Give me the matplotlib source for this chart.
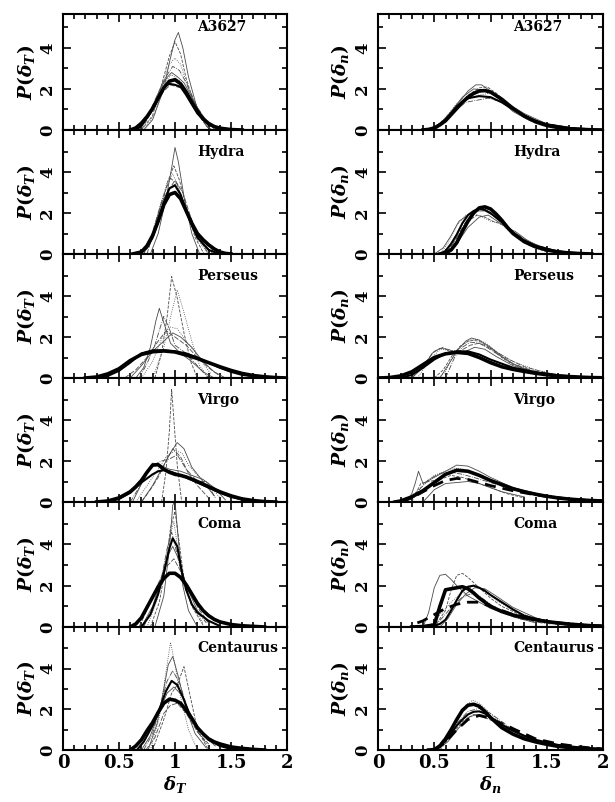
import matplotlib
matplotlib.use("Agg")
import matplotlib.pyplot as plt
from matplotlib.ticker import MultipleLocator, FixedLocator

plt.rcParams['font.family'] = ['DejaVu Serif']
plt.rcParams['font.weight'] = 'bold'
plt.rcParams['mathtext.fontset'] = 'custom'
plt.rcParams['mathtext.it'] = 'DejaVu Serif:italic:bold'
plt.rcParams['mathtext.rm'] = 'DejaVu Serif:bold'
plt.rcParams['mathtext.bf'] = 'DejaVu Serif:bold'

clusters = ["A3627", "Hydra", "Perseus", "Virgo", "Coma", "Centaurus"]
x_ticks = [0, 0.5, 1, 1.5, 2]
x_ticklabels = ['0', '0.5', '1', '1.5', '2']

# ---------------- delta_T (left column) ----------------
a3627_T = {
    "thick": ([0.6, 0.65, 0.7, 0.75, 0.8, 0.85, 0.9, 0.95, 1.0, 1.05, 1.1, 1.15, 1.2, 1.25, 1.3, 1.35, 1.4, 1.5, 1.6],
              [0.0, 0.1, 0.33, 0.65, 1.05, 1.55, 2.05, 2.38, 2.45, 2.25, 1.85, 1.35, 0.92, 0.55, 0.32, 0.17, 0.09, 0.02, 0.0]),
    "med": ([0.65, 0.7, 0.8, 0.85, 0.9, 0.95, 1.0, 1.05, 1.1, 1.2, 1.3, 1.4],
            [0, 0.2, 1.0, 1.6, 2.1, 2.25, 2.2, 2.1, 1.7, 0.8, 0.25, 0.05]),
    "thin": [
        ([0.72, 0.8, 0.9, 0.95, 1.0, 1.03, 1.07, 1.12, 1.2, 1.28, 1.33], [0, 0.5, 2.0, 3.3, 4.4, 4.75, 4.0, 2.6, 1.0, 0.2, 0]),
        ([0.7, 0.8, 0.88, 0.95, 1.0, 1.05, 1.1, 1.2, 1.3], [0, 0.7, 2.2, 3.6, 4.3, 3.7, 2.5, 0.8, 0.05]),
        ([0.68, 0.78, 0.88, 0.95, 1.0, 1.05, 1.12, 1.2, 1.32], [0, 0.8, 2.2, 3.2, 3.5, 3.2, 2.0, 0.9, 0.05]),
        ([0.66, 0.75, 0.85, 0.92, 0.98, 1.04, 1.1, 1.2, 1.3, 1.38], [0, 0.6, 1.8, 2.6, 3.1, 2.9, 2.3, 1.1, 0.3, 0]),
        ([0.68, 0.78, 0.86, 0.92, 0.97, 1.02, 1.08, 1.15, 1.25, 1.35], [0, 0.9, 1.9, 2.5, 2.8, 2.6, 2.3, 1.6, 0.6, 0.05]),
        ([0.7, 0.8, 0.9, 0.96, 1.02, 1.08, 1.15, 1.25, 1.35], [0, 1.0, 1.9, 2.2, 2.1, 2.0, 1.5, 0.6, 0.1]),
        ([0.72, 0.82, 0.9, 0.97, 1.04, 1.12, 1.2, 1.3], [0, 0.8, 2.3, 2.7, 2.4, 1.6, 0.8, 0.1]),
    ],
}

hydra_T = {
    "thick": ([0.62, 0.7, 0.75, 0.8, 0.85, 0.9, 0.95, 1.0, 1.05, 1.1, 1.15, 1.2, 1.25, 1.3, 1.35, 1.4, 1.45, 1.5],
              [0.0, 0.1, 0.4, 0.9, 1.6, 2.4, 2.9, 3.0, 2.7, 2.1, 1.5, 1.0, 0.7, 0.45, 0.25, 0.1, 0.03, 0]),
    "med": ([0.68, 0.75, 0.8, 0.85, 0.9, 0.95, 1.0, 1.05, 1.1, 1.15, 1.2, 1.3, 1.4],
            [0, 0.3, 0.8, 1.6, 2.5, 3.2, 3.35, 2.9, 2.1, 1.4, 0.8, 0.2, 0]),
    "thin": [
        ([0.78, 0.85, 0.92, 0.97, 1.0, 1.03, 1.08, 1.15, 1.22], [0, 1.0, 2.7, 4.2, 5.2, 4.5, 2.8, 1.0, 0]),
        ([0.72, 0.8, 0.88, 0.94, 0.99, 1.04, 1.1, 1.18, 1.26], [0, 0.8, 2.3, 3.6, 4.3, 3.6, 2.3, 0.8, 0]),
        ([0.7, 0.8, 0.87, 0.93, 0.98, 1.03, 1.1, 1.2, 1.3], [0, 0.9, 2.4, 3.5, 3.9, 3.3, 2.1, 0.7, 0]),
        ([0.7, 0.78, 0.86, 0.92, 0.96, 1.02, 1.08, 1.16, 1.26, 1.34], [0, 0.7, 2.2, 3.2, 3.7, 3.4, 2.4, 1.2, 0.5, 0]),
        ([0.72, 0.8, 0.88, 0.95, 1.0, 1.05, 1.12, 1.2, 1.28, 1.36], [0, 1.0, 2.5, 3.2, 3.4, 2.9, 2.0, 1.0, 0.6, 0]),
        ([0.75, 0.85, 0.93, 1.0, 1.07, 1.14, 1.22, 1.3], [0, 1.8, 3.0, 3.6, 3.0, 1.8, 0.7, 0]),
    ],
}

perseus_T = {
    "thick": ([0.2, 0.3, 0.4, 0.5, 0.6, 0.7, 0.8, 0.9, 1.0, 1.1, 1.2, 1.3, 1.4, 1.5, 1.6, 1.7, 1.8, 1.9, 2.0],
              [0.0, 0.05, 0.2, 0.45, 0.85, 1.15, 1.28, 1.32, 1.27, 1.12, 0.95, 0.75, 0.55, 0.37, 0.22, 0.12, 0.06, 0.02, 0.0]),
    "med": ([0.3, 0.4, 0.5, 0.6, 0.7, 0.8, 0.9, 1.0, 1.1, 1.2, 1.3, 1.4, 1.5, 1.6, 1.8],
            [0, 0.1, 0.35, 0.75, 1.2, 1.35, 1.35, 1.3, 1.2, 1.0, 0.75, 0.5, 0.3, 0.15, 0.02]),
    "thin": [
        ([0.65, 0.72, 0.78, 0.83, 0.86, 0.9, 0.96, 1.05, 1.15, 1.25, 1.35], [0, 0.5, 1.5, 2.8, 3.4, 2.7, 1.7, 1.2, 0.8, 0.3, 0]),
        ([0.82, 0.88, 0.93, 0.97, 1.02, 1.08, 1.14, 1.2], [0, 1.2, 3.0, 4.95, 3.9, 2.2, 0.8, 0]),
        ([0.8, 0.9, 0.97, 1.02, 1.08, 1.15, 1.22, 1.3], [0, 1.5, 3.2, 4.3, 3.2, 1.8, 0.6, 0]),
        ([0.68, 0.75, 0.82, 0.87, 0.9, 0.95, 1.0, 1.1, 1.2, 1.3], [0, 0.7, 1.6, 2.5, 3.0, 2.4, 1.6, 1.2, 0.6, 0]),
        ([0.6, 0.7, 0.8, 0.9, 0.98, 1.05, 1.15, 1.25, 1.35, 1.45], [0, 0.6, 1.3, 1.8, 2.2, 2.0, 1.5, 0.8, 0.3, 0]),
        ([0.55, 0.65, 0.75, 0.85, 0.92, 1.0, 1.1, 1.2, 1.3, 1.4], [0, 0.4, 1.0, 1.8, 2.3, 2.0, 1.6, 1.0, 0.5, 0.1]),
        ([0.7, 0.8, 0.88, 0.95, 1.02, 1.1, 1.2, 1.32], [0, 0.8, 1.9, 2.5, 2.4, 1.8, 1.1, 0.2]),
    ],
}

virgo_T = {
    "thick": ([0.3, 0.4, 0.5, 0.6, 0.65, 0.7, 0.75, 0.8, 0.85, 0.9, 0.95, 1.0, 1.05, 1.1, 1.2, 1.3, 1.4, 1.5, 1.6, 1.7, 1.8, 1.9],
              [0.0, 0.05, 0.2, 0.5, 0.75, 1.05, 1.45, 1.8, 1.82, 1.6, 1.45, 1.35, 1.3, 1.22, 1.0, 0.75, 0.5, 0.3, 0.15, 0.07, 0.02, 0.0]),
    "med": ([0.4, 0.5, 0.6, 0.7, 0.8, 0.85, 0.9, 0.95, 1.0, 1.1, 1.2, 1.3, 1.4, 1.5, 1.6, 1.8],
            [0, 0.15, 0.45, 0.95, 1.35, 1.5, 1.55, 1.5, 1.4, 1.2, 0.95, 0.7, 0.45, 0.25, 0.12, 0]),
    "thin": [
        ([0.7, 0.8, 0.9, 0.96, 1.02, 1.08, 1.15, 1.25, 1.35], [0, 0.8, 1.8, 2.4, 2.9, 2.6, 1.7, 1.0, 0.3]),
        ([0.88, 0.92, 0.95, 0.97, 0.99, 1.02, 1.06], [0, 1.5, 3.5, 5.5, 4.0, 1.8, 0]),
        ([0.65, 0.75, 0.85, 0.92, 1.0, 1.06, 1.12, 1.2, 1.3, 1.4], [0, 0.8, 1.6, 2.2, 2.5, 2.4, 1.8, 1.3, 0.9, 0.2]),
        ([0.6, 0.7, 0.8, 0.88, 0.95, 1.02, 1.1, 1.2, 1.28, 1.36], [0, 0.9, 1.8, 2.0, 2.1, 2.3, 1.6, 1.0, 1.0, 0.2]),
        ([0.62, 0.72, 0.8, 0.87, 0.95, 1.05, 1.15, 1.25, 1.35, 1.45], [0, 1.1, 1.9, 1.8, 1.6, 1.5, 1.3, 1.1, 0.7, 0.1]),
        ([0.7, 0.78, 0.85, 0.92, 0.98, 1.05, 1.12, 1.2, 1.3], [0, 0.6, 1.2, 2.0, 2.6, 2.2, 1.4, 0.8, 0.2]),
    ],
}

coma_T = {
    "thick": ([0.6, 0.65, 0.7, 0.75, 0.8, 0.85, 0.9, 0.95, 1.0, 1.05, 1.1, 1.15, 1.2, 1.25, 1.3, 1.35, 1.4, 1.5, 1.6, 1.7, 1.8],
              [0.0, 0.15, 0.45, 0.95, 1.45, 1.95, 2.35, 2.6, 2.6, 2.4, 2.05, 1.6, 1.15, 0.8, 0.55, 0.37, 0.25, 0.12, 0.06, 0.03, 0.0]),
    "med": ([0.7, 0.78, 0.85, 0.9, 0.95, 0.98, 1.02, 1.06, 1.1, 1.15, 1.2, 1.3, 1.4],
            [0, 0.6, 1.6, 2.6, 3.8, 4.3, 3.9, 2.7, 1.8, 1.1, 0.7, 0.3, 0.05]),
    "thin": [
        ([0.82, 0.9, 0.95, 0.98, 1.0, 1.03, 1.07, 1.12, 1.2], [0, 1.5, 3.8, 5.9, 6.1, 4.2, 2.0, 0.8, 0]),
        ([0.78, 0.86, 0.92, 0.96, 1.0, 1.04, 1.08, 1.15, 1.25], [0, 1.2, 3.0, 4.8, 5.6, 4.0, 2.3, 1.0, 0.1]),
        ([0.75, 0.84, 0.9, 0.95, 0.99, 1.03, 1.08, 1.15, 1.25], [0, 1.3, 2.8, 4.3, 5.1, 3.6, 2.2, 1.1, 0.2]),
        ([0.72, 0.82, 0.88, 0.93, 0.97, 1.02, 1.08, 1.16, 1.28], [0, 1.2, 2.4, 3.8, 4.6, 3.5, 2.0, 1.0, 0.2]),
        ([0.7, 0.8, 0.87, 0.93, 0.98, 1.04, 1.1, 1.2, 1.3], [0, 1.0, 2.2, 3.4, 3.9, 3.2, 2.0, 0.8, 0.2]),
        ([0.68, 0.78, 0.85, 0.92, 0.99, 1.06, 1.14, 1.22, 1.32], [0, 1.2, 2.1, 2.9, 3.3, 2.6, 1.6, 0.8, 0.1]),
    ],
}

centaurus_T = {
    "thick": ([0.6, 0.65, 0.7, 0.75, 0.8, 0.85, 0.9, 0.95, 1.0, 1.05, 1.1, 1.15, 1.2, 1.25, 1.3, 1.35, 1.4, 1.5, 1.6, 1.7, 1.8],
              [0.0, 0.2, 0.5, 0.95, 1.35, 1.85, 2.3, 2.5, 2.45, 2.3, 1.95, 1.55, 1.1, 0.8, 0.55, 0.4, 0.3, 0.15, 0.08, 0.03, 0.0]),
    "med": ([0.66, 0.72, 0.8, 0.86, 0.92, 0.97, 1.02, 1.07, 1.12, 1.2, 1.3, 1.4, 1.5],
            [0, 0.4, 1.2, 2.0, 2.9, 3.4, 3.2, 2.6, 1.9, 1.1, 0.5, 0.2, 0.05]),
    "thin": [
        ([0.76, 0.84, 0.9, 0.94, 0.98, 1.03, 1.1, 1.18, 1.28], [0, 1.3, 3.0, 4.2, 4.6, 3.6, 2.0, 0.8, 0.1]),
        ([0.8, 0.9, 0.97, 1.02, 1.08, 1.13, 1.2, 1.3], [0, 1.5, 2.8, 3.2, 4.1, 2.8, 1.0, 0]),
        ([0.78, 0.86, 0.91, 0.96, 1.0, 1.05, 1.12, 1.2], [0, 1.6, 3.5, 5.3, 4.2, 2.6, 1.0, 0]),
        ([0.72, 0.8, 0.87, 0.93, 0.98, 1.04, 1.12, 1.2, 1.3], [0, 0.8, 2.2, 3.4, 3.9, 3.3, 1.9, 0.9, 0.2]),
        ([0.7, 0.78, 0.86, 0.93, 0.99, 1.06, 1.14, 1.24, 1.36], [0, 0.7, 1.9, 2.8, 3.1, 2.7, 1.7, 0.8, 0.2]),
        ([0.74, 0.82, 0.9, 0.96, 1.02, 1.1, 1.2, 1.3], [0, 0.6, 1.8, 2.2, 2.3, 1.8, 0.9, 0.3]),
    ],
}

# ---------------- delta_n (right column) ----------------
a3627_n = {
    "thick": ([0.4, 0.45, 0.5, 0.55, 0.6, 0.65, 0.7, 0.75, 0.8, 0.85, 0.9, 0.95, 1.0, 1.1, 1.2, 1.3, 1.4, 1.5, 1.6, 1.7, 1.8, 1.9, 2.0],
              [0.0, 0.03, 0.1, 0.25, 0.45, 0.75, 1.05, 1.35, 1.6, 1.78, 1.9, 1.92, 1.85, 1.5, 1.05, 0.68, 0.4, 0.22, 0.12, 0.06, 0.03, 0.01, 0.0]),
    "med": ([0.45, 0.5, 0.6, 0.7, 0.8, 0.9, 1.0, 1.1, 1.2, 1.3, 1.4, 1.5, 1.7, 1.9],
            [0, 0.1, 0.5, 1.15, 1.55, 1.65, 1.6, 1.35, 1.0, 0.7, 0.45, 0.28, 0.1, 0.03]),
    "thin": [
        ([0.5, 0.6, 0.7, 0.8, 0.87, 0.92, 1.0, 1.1, 1.2, 1.35, 1.5, 1.7], [0, 0.4, 1.2, 1.9, 2.2, 2.2, 1.9, 1.4, 0.9, 0.45, 0.2, 0.05]),
        ([0.5, 0.6, 0.7, 0.8, 0.9, 0.97, 1.05, 1.15, 1.3, 1.45, 1.65], [0, 0.5, 1.1, 1.7, 2.05, 2.1, 1.8, 1.3, 0.7, 0.3, 0.1]),
        ([0.48, 0.6, 0.7, 0.8, 0.9, 1.0, 1.1, 1.2, 1.35, 1.5, 1.7], [0, 0.6, 1.3, 1.5, 1.7, 1.8, 1.5, 1.0, 0.5, 0.25, 0.05]),
        ([0.5, 0.6, 0.7, 0.78, 0.88, 0.98, 1.08, 1.2, 1.35, 1.5, 1.8], [0, 0.4, 1.0, 1.35, 1.45, 1.55, 1.4, 1.0, 0.6, 0.3, 0.05]),
        ([0.45, 0.55, 0.65, 0.75, 0.85, 0.95, 1.05, 1.15, 1.3, 1.5, 1.8], [0, 0.3, 0.9, 1.6, 2.0, 1.95, 1.7, 1.3, 0.8, 0.3, 0.05]),
    ],
}

hydra_n = {
    "thick": ([0.55, 0.6, 0.65, 0.7, 0.75, 0.8, 0.85, 0.9, 0.95, 1.0, 1.05, 1.1, 1.15, 1.2, 1.3, 1.4, 1.5, 1.6, 1.7, 1.8, 1.9],
              [0.0, 0.05, 0.2, 0.55, 1.1, 1.6, 2.0, 2.25, 2.3, 2.2, 1.95, 1.65, 1.3, 1.0, 0.6, 0.35, 0.2, 0.1, 0.05, 0.02, 0.0]),
    "med": ([0.55, 0.6, 0.65, 0.7, 0.75, 0.8, 0.85, 0.9, 0.95, 1.0, 1.1, 1.2, 1.3, 1.4, 1.6, 1.8],
            [0, 0.15, 0.5, 0.95, 1.5, 1.9, 2.1, 2.2, 2.15, 2.0, 1.55, 1.05, 0.65, 0.4, 0.12, 0.03]),
    "thin": [
        ([0.5, 0.58, 0.65, 0.72, 0.8, 0.88, 0.95, 1.05, 1.15, 1.3, 1.5, 1.7], [0, 0.3, 0.9, 1.6, 1.9, 2.1, 2.1, 1.8, 1.3, 0.7, 0.25, 0.05]),
        ([0.6, 0.7, 0.8, 0.88, 0.95, 1.02, 1.1, 1.18, 1.25, 1.35, 1.5], [0, 0.8, 1.6, 1.9, 1.8, 1.6, 1.45, 1.2, 0.8, 0.4, 0.1]),
        ([0.55, 0.62, 0.7, 0.78, 0.85, 0.93, 1.0, 1.08, 1.15, 1.25, 1.4, 1.6], [0, 0.5, 1.4, 1.9, 1.95, 1.8, 1.6, 1.5, 1.2, 0.8, 0.35, 0.1]),
        ([0.6, 0.68, 0.76, 0.84, 0.92, 1.0, 1.08, 1.2, 1.35, 1.55, 1.8], [0, 0.6, 1.4, 2.0, 2.3, 2.2, 1.8, 1.1, 0.55, 0.2, 0.03]),
        ([0.62, 0.7, 0.8, 0.9, 0.98, 1.06, 1.14, 1.22, 1.32, 1.45, 1.7], [0, 0.5, 1.3, 1.8, 1.9, 1.6, 1.3, 1.1, 0.7, 0.3, 0.05]),
    ],
}

perseus_n = {
    "thick": ([0.0, 0.1, 0.2, 0.3, 0.4, 0.5, 0.6, 0.7, 0.8, 0.9, 1.0, 1.1, 1.2, 1.3, 1.4, 1.5, 1.6, 1.7, 1.8, 1.9, 2.0],
              [0.0, 0.02, 0.1, 0.3, 0.65, 1.0, 1.18, 1.25, 1.2, 1.0, 0.75, 0.55, 0.42, 0.32, 0.23, 0.16, 0.1, 0.07, 0.04, 0.02, 0.01]),
    "med": ([0.2, 0.3, 0.4, 0.5, 0.6, 0.7, 0.8, 0.9, 1.0, 1.1, 1.2, 1.4, 1.6, 1.8, 2.0],
            [0, 0.15, 0.5, 0.9, 1.2, 1.3, 1.3, 1.15, 0.9, 0.7, 0.5, 0.28, 0.13, 0.05, 0.02]),
    "thin": [
        ([0.55, 0.62, 0.7, 0.78, 0.83, 0.9, 1.0, 1.1, 1.2, 1.3, 1.45, 1.6, 1.8], [0, 0.6, 1.3, 1.8, 1.95, 1.85, 1.5, 1.05, 0.7, 0.45, 0.25, 0.12, 0.04]),
        ([0.5, 0.58, 0.66, 0.74, 0.82, 0.9, 1.0, 1.1, 1.2, 1.35, 1.5, 1.7], [0, 0.4, 1.1, 1.6, 1.85, 1.8, 1.45, 1.0, 0.65, 0.35, 0.18, 0.06]),
        ([0.35, 0.45, 0.55, 0.65, 0.75, 0.85, 0.95, 1.1, 1.3, 1.5], [0, 0.8, 1.4, 1.35, 1.3, 1.2, 1.0, 0.7, 0.4, 0.15]),
        ([0.6, 0.68, 0.75, 0.82, 0.9, 0.98, 1.08, 1.2, 1.35, 1.5, 1.7], [0, 1.0, 1.5, 1.75, 1.7, 1.45, 1.1, 0.7, 0.4, 0.2, 0.06]),
        ([0.3, 0.4, 0.48, 0.55, 0.62, 0.7, 0.78, 0.86, 0.95, 1.05, 1.2, 1.4, 1.6], [0, 0.5, 1.2, 1.45, 1.4, 1.25, 1.3, 1.5, 1.4, 1.05, 0.6, 0.25, 0.1]),
        ([0.3, 0.4, 0.5, 0.58, 0.66, 0.74, 0.82, 0.9, 1.0, 1.15, 1.3, 1.5, 1.7], [0, 0.6, 1.3, 1.5, 1.2, 1.35, 1.6, 1.7, 1.45, 0.95, 0.55, 0.25, 0.08]),
        ([0.5, 0.55, 0.6, 0.65, 0.72, 0.8, 0.88, 0.96, 1.05, 1.2, 1.4, 1.6], [0, 0.05, 0.3, 0.9, 1.5, 1.8, 1.9, 1.7, 1.3, 0.8, 0.4, 0.15]),
    ],
}

virgo_n = {
    "thick": ([0.15, 0.2, 0.3, 0.4, 0.5, 0.6, 0.7, 0.8, 0.9, 1.0, 1.1, 1.2, 1.3, 1.4, 1.5, 1.6, 1.7, 1.8, 1.9, 2.0],
              [0.0, 0.05, 0.25, 0.55, 0.95, 1.35, 1.55, 1.5, 1.3, 1.05, 0.85, 0.65, 0.5, 0.38, 0.28, 0.2, 0.14, 0.1, 0.07, 0.05]),
    "dash": ([0.2, 0.3, 0.4, 0.5, 0.6, 0.7, 0.8, 0.9, 1.0, 1.2, 1.4, 1.6, 1.8, 2.0],
             [0, 0.2, 0.5, 0.8, 1.05, 1.15, 1.1, 0.95, 0.8, 0.55, 0.35, 0.2, 0.1, 0.05]),
    "thin": [
        ([0.25, 0.3, 0.33, 0.36, 0.4, 0.5, 0.6, 0.7, 0.8, 0.9, 1.0, 1.2, 1.5], [0, 0.4, 0.9, 1.5, 0.9, 1.2, 1.5, 1.8, 1.75, 1.5, 1.2, 0.7, 0.3]),
        ([0.3, 0.38, 0.45, 0.55, 0.65, 0.75, 0.85, 0.95, 1.05, 1.15, 1.3], [0, 0.9, 1.0, 1.1, 1.3, 1.2, 1.0, 0.8, 0.6, 0.4, 0.2]),
        ([0.2, 0.3, 0.4, 0.5, 0.6, 0.68, 0.76, 0.85, 0.95, 1.1, 1.3, 1.6, 1.9], [0, 0.3, 0.8, 1.3, 1.5, 1.65, 1.6, 1.4, 1.15, 0.8, 0.5, 0.25, 0.1]),
        ([0.25, 0.35, 0.45, 0.55, 0.65, 0.75, 0.85, 1.0, 1.2, 1.4, 1.7], [0, 0.5, 1.1, 1.4, 1.45, 1.35, 1.2, 0.95, 0.6, 0.35, 0.15]),
        ([0.4, 0.5, 0.6, 0.7, 0.8, 0.9, 1.0, 1.1, 1.3], [0, 0.6, 0.9, 0.95, 1.0, 0.9, 0.7, 0.5, 0.25]),
    ],
}

coma_n = {
    "thick": ([0.3, 0.4, 0.5, 0.55, 0.6, 0.65, 0.7, 0.75, 0.8, 0.85, 0.9, 0.95, 1.0, 1.1, 1.2, 1.3, 1.4, 1.5, 1.6, 1.7, 1.8, 1.9, 2.0],
              [0.0, 0.02, 0.1, 1.0, 1.8, 1.85, 1.9, 1.95, 1.85, 1.65, 1.4, 1.2, 1.0, 0.75, 0.58, 0.45, 0.35, 0.26, 0.2, 0.14, 0.1, 0.06, 0.04]),
    "med": ([0.45, 0.5, 0.55, 0.6, 0.65, 0.7, 0.75, 0.8, 0.85, 0.9, 0.95, 1.0, 1.1, 1.2, 1.3, 1.4, 1.5, 1.6, 1.7, 1.8, 2.0],
            [0.0, 0.05, 0.15, 0.35, 0.8, 1.3, 1.75, 1.95, 2.0, 1.9, 1.75, 1.55, 1.2, 0.85, 0.55, 0.4, 0.28, 0.2, 0.14, 0.08, 0.03]),
    "dash": ([0.35, 0.4, 0.45, 0.5, 0.6, 0.7, 0.8, 0.9, 1.0, 1.1, 1.2, 1.4, 1.6, 1.8, 2.0],
             [0.2, 0.3, 0.45, 0.6, 0.9, 1.1, 1.2, 1.2, 1.0, 0.8, 0.6, 0.35, 0.2, 0.1, 0.05]),
    "thin": [
        ([0.4, 0.45, 0.5, 0.55, 0.6, 0.65, 0.7, 0.8, 0.9, 1.0, 1.2, 1.4], [0, 0.7, 1.9, 2.5, 2.55, 2.3, 2.0, 1.5, 1.2, 0.9, 0.5, 0.2]),
        ([0.5, 0.6, 0.65, 0.7, 0.75, 0.8, 0.9, 1.0, 1.1, 1.3, 1.5], [0, 0.8, 1.8, 2.5, 2.6, 2.4, 1.9, 1.4, 1.0, 0.5, 0.2]),
        ([0.45, 0.55, 0.65, 0.75, 0.85, 0.95, 1.05, 1.2, 1.4, 1.6], [0, 0.6, 1.2, 1.7, 2.0, 1.8, 1.3, 0.8, 0.4, 0.15]),
        ([0.5, 0.58, 0.66, 0.74, 0.82, 0.9, 1.0, 1.1, 1.25, 1.45, 1.7], [0, 0.5, 1.0, 1.4, 1.6, 1.5, 1.1, 0.7, 0.4, 0.2, 0.06]),
        ([0.55, 0.62, 0.7, 0.78, 0.86, 0.95, 1.05, 1.2, 1.4, 1.6], [0, 0.4, 1.1, 1.6, 1.9, 1.85, 1.5, 0.95, 0.45, 0.15]),
    ],
}

centaurus_n = {
    "thick": ([0.45, 0.5, 0.55, 0.6, 0.65, 0.7, 0.75, 0.8, 0.85, 0.9, 0.95, 1.0, 1.05, 1.1, 1.2, 1.3, 1.4, 1.5, 1.6, 1.7, 1.8, 1.9, 2.0],
              [0.0, 0.02, 0.2, 0.55, 1.0, 1.5, 1.95, 2.2, 2.25, 2.15, 1.9, 1.6, 1.35, 1.1, 0.78, 0.55, 0.4, 0.28, 0.18, 0.12, 0.07, 0.04, 0.02]),
    "med": ([0.5, 0.55, 0.6, 0.65, 0.7, 0.75, 0.8, 0.85, 0.9, 0.95, 1.0, 1.1, 1.2, 1.3, 1.4, 1.6, 1.8, 2.0],
            [0, 0.15, 0.45, 0.8, 1.2, 1.5, 1.75, 1.88, 1.9, 1.8, 1.6, 1.25, 0.95, 0.7, 0.5, 0.25, 0.12, 0.05]),
    "dash": ([0.5, 0.6, 0.7, 0.8, 0.9, 1.0, 1.1, 1.15, 1.2, 1.3, 1.4, 1.6, 1.8, 2.0],
             [0, 0.4, 1.0, 1.5, 1.7, 1.55, 1.3, 1.2, 1.05, 0.8, 0.55, 0.3, 0.15, 0.05]),
    "thin": [
        ([0.52, 0.62, 0.72, 0.8, 0.88, 0.96, 1.05, 1.15, 1.3, 1.5, 1.8], [0, 0.4, 1.1, 1.6, 1.75, 1.7, 1.4, 1.05, 0.65, 0.3, 0.08]),
        ([0.55, 0.65, 0.75, 0.85, 0.95, 1.05, 1.15, 1.3, 1.5, 1.8], [0, 0.7, 1.4, 1.75, 1.6, 1.35, 1.15, 0.7, 0.35, 0.08]),
        ([0.5, 0.6, 0.7, 0.78, 0.84, 0.9, 1.0, 1.1, 1.25, 1.45, 1.7], [0, 0.5, 1.4, 2.2, 2.45, 2.3, 1.8, 1.3, 0.8, 0.4, 0.12]),
        ([0.5, 0.6, 0.7, 0.8, 0.9, 1.0, 1.1, 1.2, 1.35, 1.55], [0, 0.6, 1.3, 1.9, 2.05, 1.8, 1.4, 1.0, 0.55, 0.2]),
    ],
}

left_panels = [a3627_T, hydra_T, perseus_T, virgo_T, coma_T, centaurus_T]
right_panels = [a3627_n, hydra_n, perseus_n, virgo_n, coma_n, centaurus_n]

thin_styles = ['-', '--', ':', '-.', '-', (0, (6, 2)), ':']

W, H = 615, 802
fig = plt.figure(figsize=(W / 100, H / 100), dpi=100)

# panel bottoms / tops in pixels
bottoms = [130, 254, 378, 502, 627, 750]
tops = [14, 130, 254, 378, 502, 627]
cols = [(63, 287), (378, 603)]


def draw_panel(ax, d, name, top_panel, bottom_panel, ylab, xlab):
    for i, (xs, ys) in enumerate(d["thin"]):
        ax.plot(xs, ys, color='#4a4a4a', lw=0.6, ls=thin_styles[i % len(thin_styles)])
    if "med" in d:
        ax.plot(*d["med"], color='black', lw=1.5)
    if "dash" in d:
        ax.plot(*d["dash"], color='black', lw=2.0, ls=(0, (4, 2.5)))
    ax.plot(*d["thick"], color='black', lw=2.6)

    ax.set_xlim(0, 2)
    ax.set_ylim(0, 5.65 if top_panel else 6.05)
    ax.xaxis.set_major_locator(FixedLocator(x_ticks))
    ax.xaxis.set_minor_locator(MultipleLocator(0.1))
    ax.yaxis.set_major_locator(FixedLocator([0, 2, 4]))
    ax.yaxis.set_minor_locator(FixedLocator([1, 3, 5]))
    ax.tick_params(which='both', direction='in', top=True, right=True, width=1.2)
    ax.tick_params(which='major', length=6)
    ax.tick_params(which='minor', length=3.5)
    ax.tick_params(axis='y', labelsize=12, pad=5)
    ax.tick_params(axis='x', labelsize=13, pad=3)
    for s in ax.spines.values():
        s.set_linewidth(1.5)
    for lab in ax.get_yticklabels():
        lab.set_rotation(90)
        lab.set_va('center')
        lab.set_fontweight('bold')
    if bottom_panel:
        ax.set_xticklabels(x_ticklabels, fontweight='bold')
        ax.set_xlabel(xlab, fontsize=13, labelpad=1)
    else:
        ax.set_xticklabels([])
    ax.set_ylabel(ylab, fontsize=13.5)
    ax.yaxis.set_label_coords(-0.118, 0.5)
    ax.text(1.2, 5.0, name, fontsize=10, fontweight='bold', ha='left', va='center')


for c, (panels, sym) in enumerate([(left_panels, 'T'), (right_panels, 'n')]):
    x0, x1 = cols[c]
    for r in range(6):
        ax = fig.add_axes([x0 / W, 1 - bottoms[r] / H, (x1 - x0) / W, (bottoms[r] - tops[r]) / H])
        draw_panel(ax, panels[r], clusters[r], r == 0, r == 5,
                   r'$P(\delta_%s)$' % sym, r'$\delta_%s$' % sym)

fig.savefig("out.png", dpi=100)
